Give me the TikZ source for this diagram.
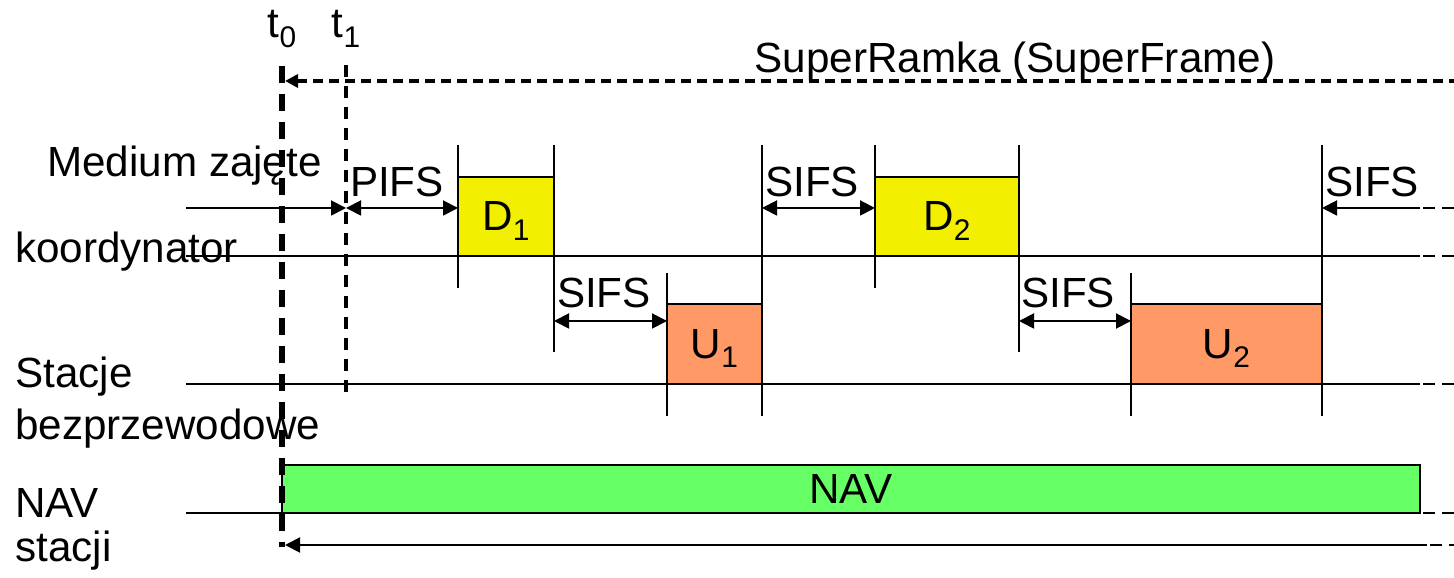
\documentclass[tikz,border=0pt]{standalone}
\usepackage{fontspec}
\setmainfont{Liberation Sans}
\usetikzlibrary{arrows.meta}
\definecolor{dlinkyellow}{RGB}{242,240,0}
\definecolor{ulinkorange}{RGB}{255,153,102}
\definecolor{navgreen}{RGB}{102,255,102}
\newcommand{\lowsub}[1]{\raisebox{-5.5pt}[0pt][0pt]{\fontsize{17}{17}\selectfont #1}}

\tikzset{
    timeline/.style={line width=1.1pt},
    cont/.style={line width=1.6pt,dash pattern=on 0.24cm off 0.14cm,dash phase=0.32cm},
    slotedge/.style={line width=0.85pt},
    arr/.style={line width=1.1pt,-{Triangle[length=0.3cm,width=0.3cm]}},
    dimarr/.style={line width=1.1pt,{Triangle[length=0.3cm,width=0.3cm]}-{Triangle[length=0.3cm,width=0.3cm]}},
    slot/.style={draw,line width=0.85pt,inner sep=0pt,outer sep=0pt,minimum height=1.58cm},
    lbl/.style={anchor=base},
    rowlbl/.style={anchor=base west,inner sep=0pt},
}

\begin{document}
\begin{tikzpicture}[font=\fontsize{24}{28}\selectfont]
    \useasboundingbox (0,0) rectangle (29.08,11.56);

    % Reference points
    \coordinate (rim) at (29.08,0);
    \coordinate (tend) at (28.4,0);
    \coordinate (t0top) at (5.64,10.24);
    \coordinate (t0bot) at (5.64,0.62);
    \coordinate (t1top) at (6.92,10.26);
    \coordinate (t1bot) at (6.92,3.56);
    \coordinate (sfstart) at (5.7,9.94);
    \coordinate (kin) at (3.72,7.4);
    \coordinate (kline) at (3.72,6.44);
    \coordinate (sline) at (3.72,3.88);
    \coordinate (nline) at (3.72,1.3);
    \coordinate (navstart) at (5.7,0.66);
    \coordinate (navend) at (28.54,0.66);
    \coordinate (tickhi) at (0,8.66);
    \coordinate (uhi) at (0,6.1);
    \coordinate (dlo) at (0,5.8);
    \coordinate (mid) at (0,4.52);
    \coordinate (low) at (0,3.24);
    \coordinate (dsifs) at (0,7.4);
    \coordinate (usifs) at (0,5.14);

    % Time lines
    \draw[timeline] (kline) -- (kline -| tend);
    \draw[cont] (kline -| tend) -- (kline -| rim);
    \draw[timeline] (sline) -- (sline -| tend);
    \draw[cont] (sline -| tend) -- (sline -| rim);

    % Downlink and uplink slots
    \node[slot,fill=dlinkyellow,minimum width=1.92cm] (d1) at (10.12,7.23) {D\lowsub{1}};
    \node[slot,fill=ulinkorange,minimum width=1.9cm,minimum height=1.6cm] (u1) at (14.29,4.68) {U\lowsub{1}};
    \node[slot,fill=dlinkyellow,minimum width=2.88cm] (d2) at (18.94,7.23) {D\lowsub{2}};
    \node[slot,fill=ulinkorange,minimum width=3.82cm,minimum height=1.6cm] (u2) at (24.53,4.68) {U\lowsub{2}};

    % Slot boundaries
    \foreach \s/\p/\q in {d1.west/tickhi/dlo, d1.east/tickhi/mid, u1.west/uhi/low, u1.east/tickhi/low,
                          d2.west/tickhi/dlo, d2.east/tickhi/mid, u2.west/uhi/low, u2.east/tickhi/low}
        \draw[slotedge] (\s |- \p) -- (\s |- \q);

    % Interframe spaces
    \draw[arr] (kin) -- (t1top |- kin);
    \draw[dimarr] (t1top |- kin) -- (d1.west |- kin);
    \draw[dimarr] (d1.east |- usifs) -- (u1.west |- usifs);
    \draw[dimarr] (u1.east |- dsifs) -- (d2.west |- dsifs);
    \draw[dimarr] (d2.east |- usifs) -- (u2.west |- usifs);
    \draw[arr] (tend |- dsifs) -- (u2.east |- dsifs);
    \draw[cont] (tend |- dsifs) -- (rim |- dsifs);

    % NAV of the stations
    \node[slot,fill=navgreen,minimum width=22.76cm,minimum height=0.96cm] (nav) at (17.02,1.78) {NAV};
    \draw[timeline] (nline) -- (nav.south west);
    \draw[cont] (nav.south east) -- (rim |- nav.south east);
    \draw[arr] (navend) -- (navstart);
    \draw[cont] (navend) -- (rim |- navend);

    % t0 and t1 markers, superframe
    \draw[line width=3.2pt,dash pattern=on 0.34cm off 0.22cm] (t0top) -- (t0bot);
    \draw[line width=2pt,dash pattern=on 0.24cm off 0.18cm] (t1top) -- (t1bot);
    \draw[line width=2pt,dash pattern=on 0.2cm off 0.12cm,{Triangle[length=0.26cm,width=0.26cm]}-] (sfstart) -- (rim |- sfstart);

    % Labels
    \node[lbl] (t0lbl) at (5.64,10.8) {t\lowsub{0}};
    \node[lbl] (t1lbl) at (6.92,10.8) {t\lowsub{1}};
    \node[lbl] (sflbl) at (20.3,10.1) {SuperRamka (SuperFrame)};
    \node[lbl] (pifs) at (7.94,7.62) {PIFS};
    \node[lbl] (sifs1) at (12.08,5.4) {SIFS};
    \node[lbl] (sifs2) at (16.24,7.62) {SIFS};
    \node[lbl] (sifs3) at (21.36,5.4) {SIFS};
    \node[lbl] (sifs4) at (27.44,7.62) {SIFS};
    \node[rowlbl] (busy) at (0.94,8.02) {Medium zajęte};
    \node[rowlbl] (coord) at (0.3,6.3) {koordynator};
    \node[rowlbl] (sta) at (0.3,3.8) {Stacje};
    \node[rowlbl] (wless) at (0.3,2.76) {bezprzewodowe};
    \node[rowlbl] (navl) at (0.3,1.2) {NAV};
    \node[rowlbl] (navs) at (0.3,0.32) {stacji};
\end{tikzpicture}
\end{document}
